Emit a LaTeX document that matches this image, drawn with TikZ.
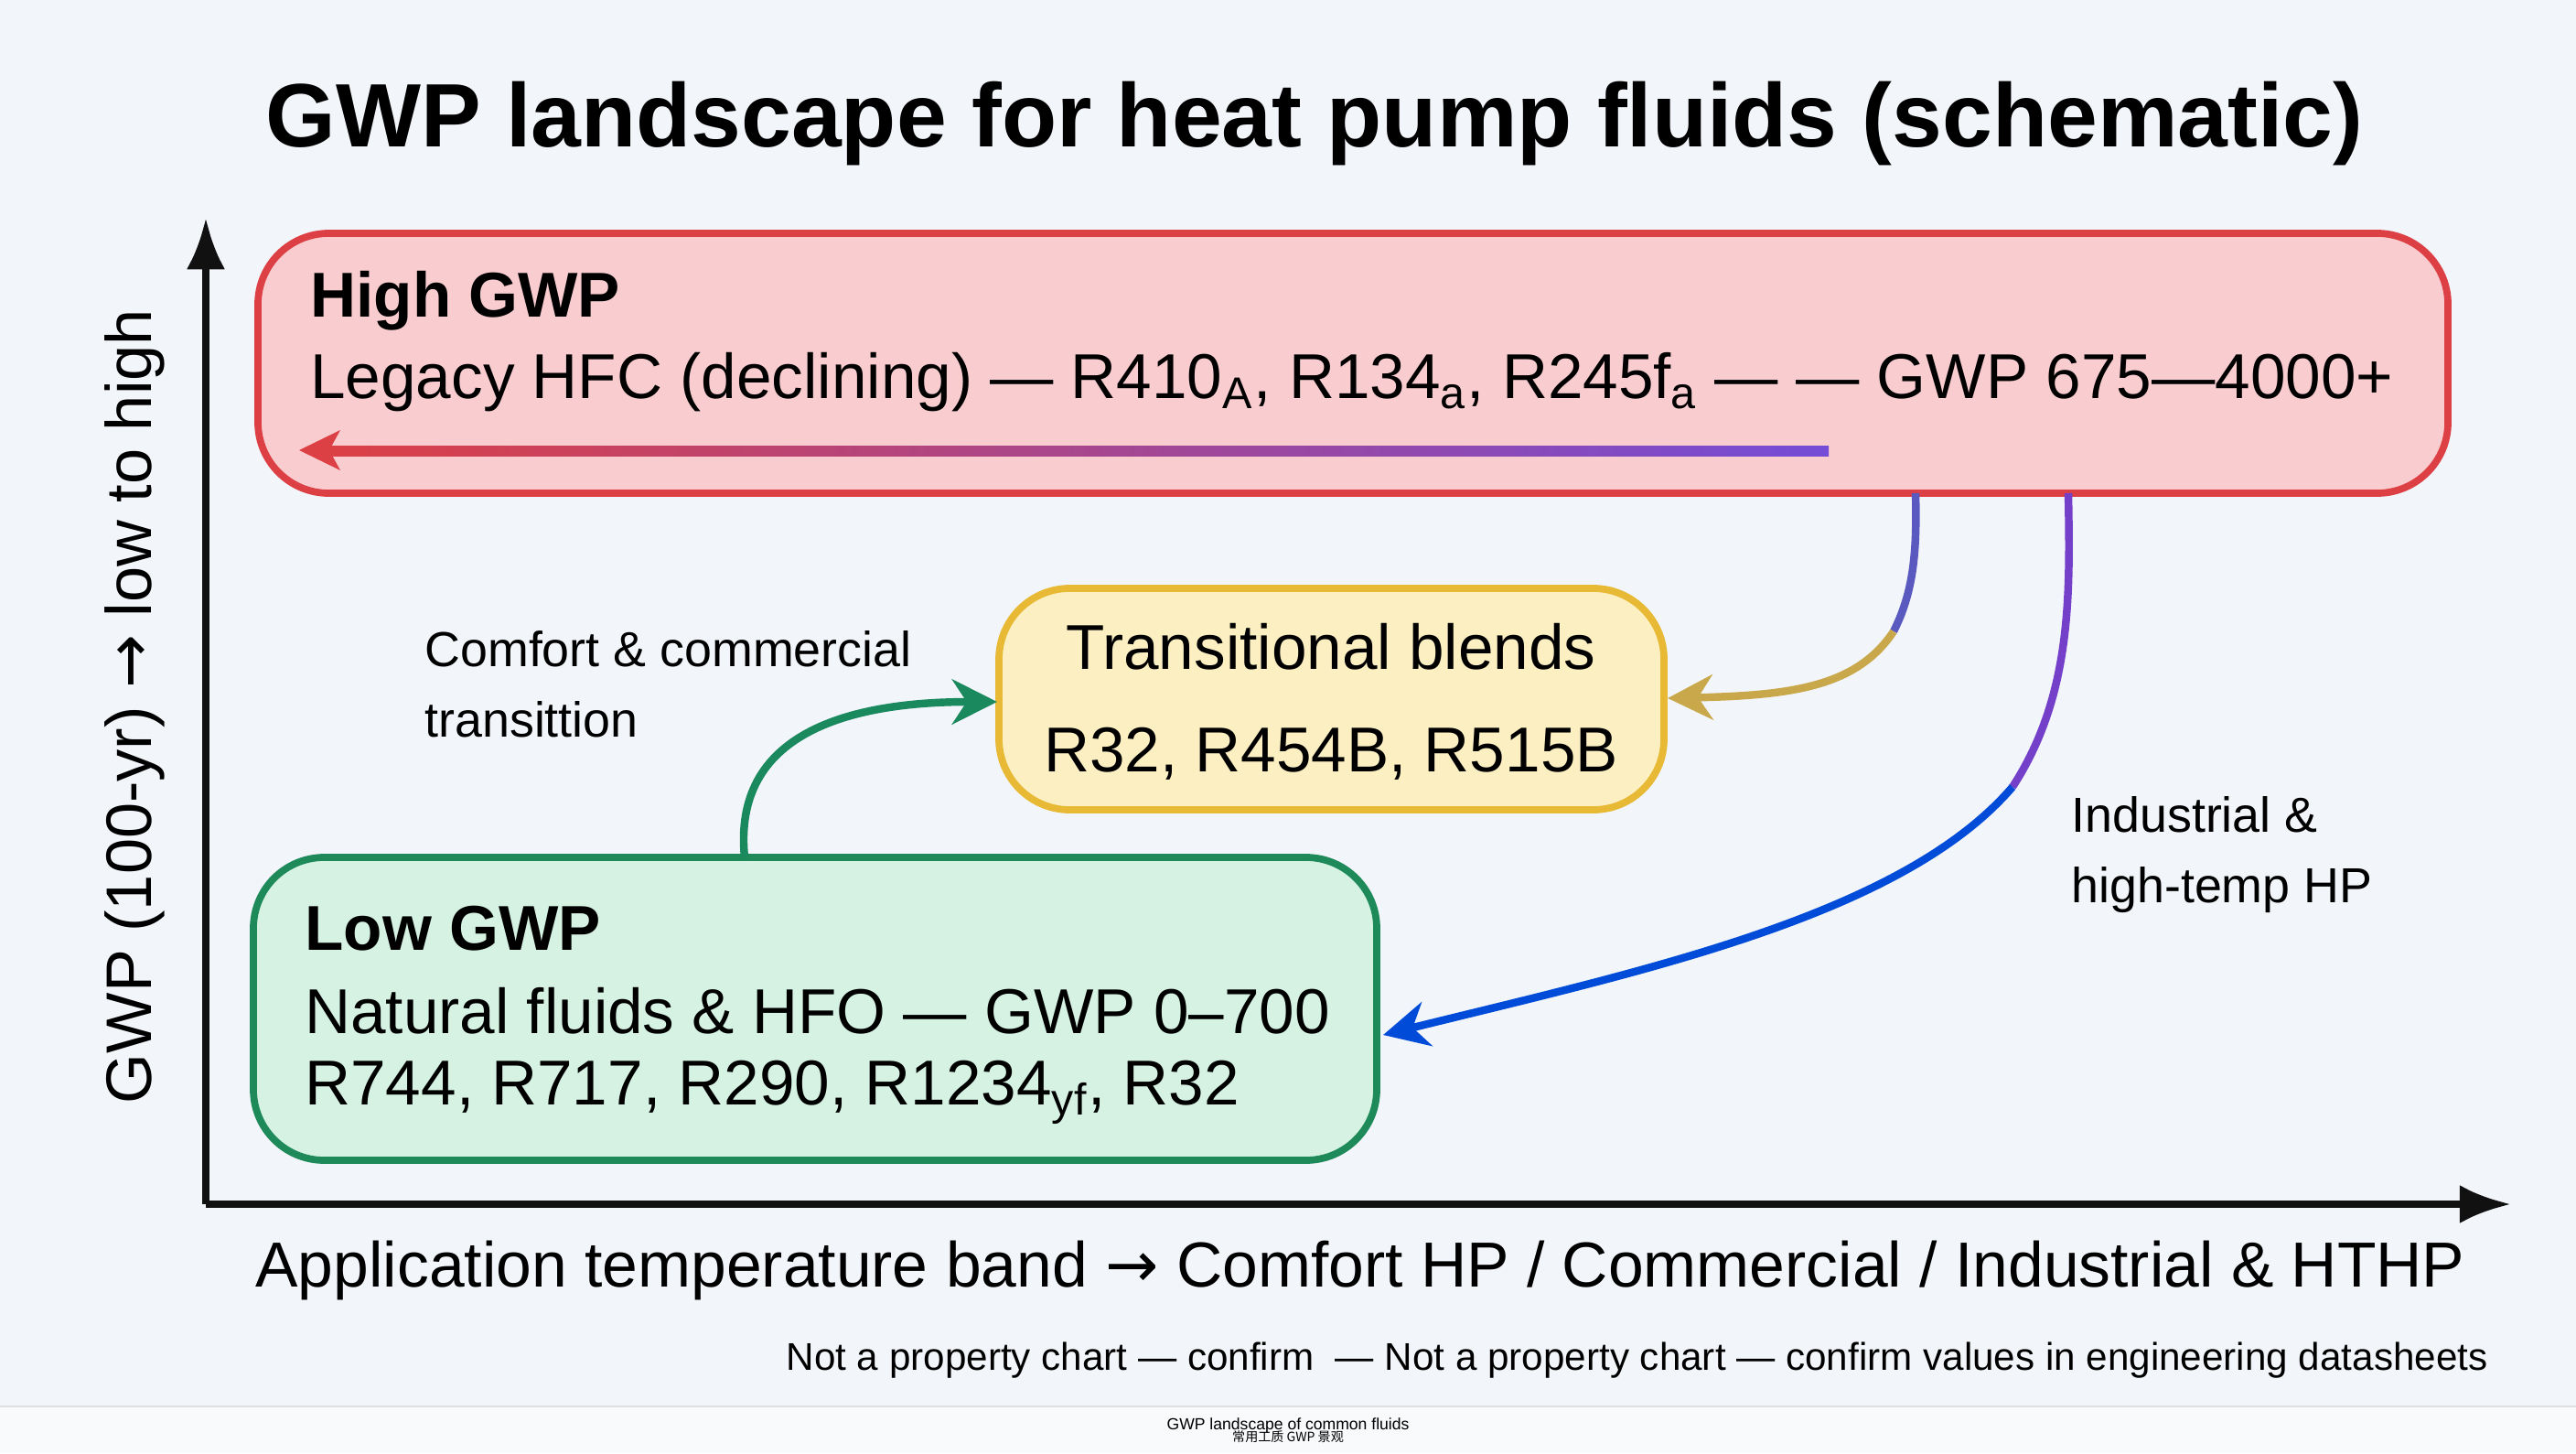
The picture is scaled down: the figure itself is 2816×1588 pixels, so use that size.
\documentclass[tikz,border=0pt]{standalone}
\usepackage{fontspec}
\setmainfont{Liberation Sans}
\newfontfamily\cjk{Noto Sans CJK SC}
\newfontfamily\dv{DejaVu Sans}
\usetikzlibrary{arrows.meta}
\definecolor{bg}{HTML}{F2F5FA}
\definecolor{hifill}{HTML}{F9CDCF}
\definecolor{hiline}{HTML}{DC4044}
\definecolor{trfill}{HTML}{FCEFC2}
\definecolor{trline}{HTML}{E8B935}
\definecolor{lofill}{HTML}{D5F2E3}
\definecolor{loline}{HTML}{1E8A5A}
\definecolor{axis}{HTML}{111111}
\newcommand{\sbs}[1]{\textsubscript{#1}}
\tikzset{
  box/.style={rounded corners=22, line width=2.2pt, inner sep=0},
  big/.style={font=\fontsize{19.7}{26}\selectfont},
  lbl/.style={align=left, anchor=west},
  side/.style={lbl, font=\fontsize{15.3}{22}\selectfont},
  conn/.style={line width=2.4pt, -{Stealth[length=14pt,width=14pt]}},
}
\begin{document}
\begin{tikzpicture}[x=0.01cm,y=-0.01cm]
\useasboundingbox (0,0) rectangle (2816,1588);
\fill[bg] (0,0) rectangle (2816,1588);
\fill[white!50!bg] (0,1537) rectangle (2816,1588);
\draw[gray!25,line width=0.6pt] (0,1537) -- (2816,1537);
\node[font=\fontsize{28}{34}\selectfont\bfseries] (title) at (1437,135) {GWP landscape for heat pump fluids (schematic)};
% axes
\coordinate (o) at (225,1316);
\coordinate (ytop) at (225,238);
\coordinate (xend) at (2745,1316);
\draw[axis,line width=2.4pt,-{Latex[length=16pt,width=12pt]}] (o) -- (ytop);
\draw[axis,line width=2.4pt,-{Latex[length=16pt,width=12pt]}] (o) -- (xend);
\node[rotate=90,font=\fontsize{20}{26}\selectfont] (ylab) at (147,772) {GWP (100-yr) {\dv →} low to high};
\node[font=\fontsize{19.8}{26}\selectfont] (xlab) at (1487,1388) {Application temperature band {\dv →} Comfort HP / Commercial / Industrial \& HTHP};
\node[anchor=east,font=\fontsize{12}{16}\selectfont] (note) at (2732,1487) {Not a property chart — confirm \ — Not a property chart — confirm values in engineering datasheets};
% boxes
\draw[box, fill=hifill, draw=hiline] (282,255) rectangle (2676,539);
\node[lbl,big,font=\fontsize{19.7}{26}\selectfont\bfseries] (hit) at (327,329) {High GWP};
\node[lbl,big] (hil) at (327,418) {Legacy HFC (declining) — R410\sbs{A}, R134\sbs{a}, R245f\sbs{a} — — GWP 675—4000+};
\shade[left color=hiline, right color=violet!45!blue!70!white] (345,487) rectangle (1999,498);
\fill[hiline] (327,492) -- (372,470) -- (360,492) -- (372,514) -- cycle;
\coordinate (h1) at (2094,539);
\coordinate (h2) at (2261,539);

\draw[box, fill=trfill, draw=trline] (1092,643) rectangle (1819,885);
\node[align=center,font=\fontsize{19.7}{32}\selectfont] (trt) at (1455,767) {Transitional blends\\R32, R454B, R515B};

\draw[box, fill=lofill, draw=loline] (277,937) rectangle (1505,1268);
\node[lbl,font=\fontsize{19.7}{26}\selectfont\bfseries] (lot) at (321,1015) {Low GWP};
\node[lbl,big] (lol1) at (321,1105) {Natural fluids \& HFO — GWP 0–700};
\node[lbl,big] (lol2) at (321,1194) {R744, R717, R290, R1234\sbs{yf}, R32};

\node[side] (cc) at (452,748) {Comfort \& commercial\\transittion};
\node[side] (ind) at (2252,934) {Industrial \&\\high-temp HP};

\coordinate (lowtop) at (814,937);
\coordinate (trleft) at (1090,767);
\coordinate (trright) at (1823,763);
\coordinate (lowright) at (1512,1131);
% connectors
\draw[conn, draw=loline!90!teal] (lowtop) .. controls (800,800) and (930,767) .. (trleft);
\draw[line width=2.4pt, draw=blue!45!gray!90] (h1) .. controls (2096,610) and (2090,650) .. (2070,690) coordinate (m1);
\draw[conn, draw=trline!70!gray] (m1) .. controls (2030,750) and (1960,760) .. (trright);
\draw[line width=2.4pt, draw=violet!55!blue!75!white] (h2) .. controls (2263,650) and (2265,760) .. (2200,860) coordinate (m2);
\draw[conn, draw=blue!65!cyan!85!black] (m2) .. controls (2080,1000) and (1800,1060) .. (lowright);

\node[font=\fontsize{5}{6}\selectfont] (cap1) at (1408,1558) {GWP landscape of common fluids};
\node[font=\fontsize{4}{5}\selectfont\cjk] (cap2) at (1408,1570) {常用工质 GWP 景观};
\end{tikzpicture}
\end{document}
